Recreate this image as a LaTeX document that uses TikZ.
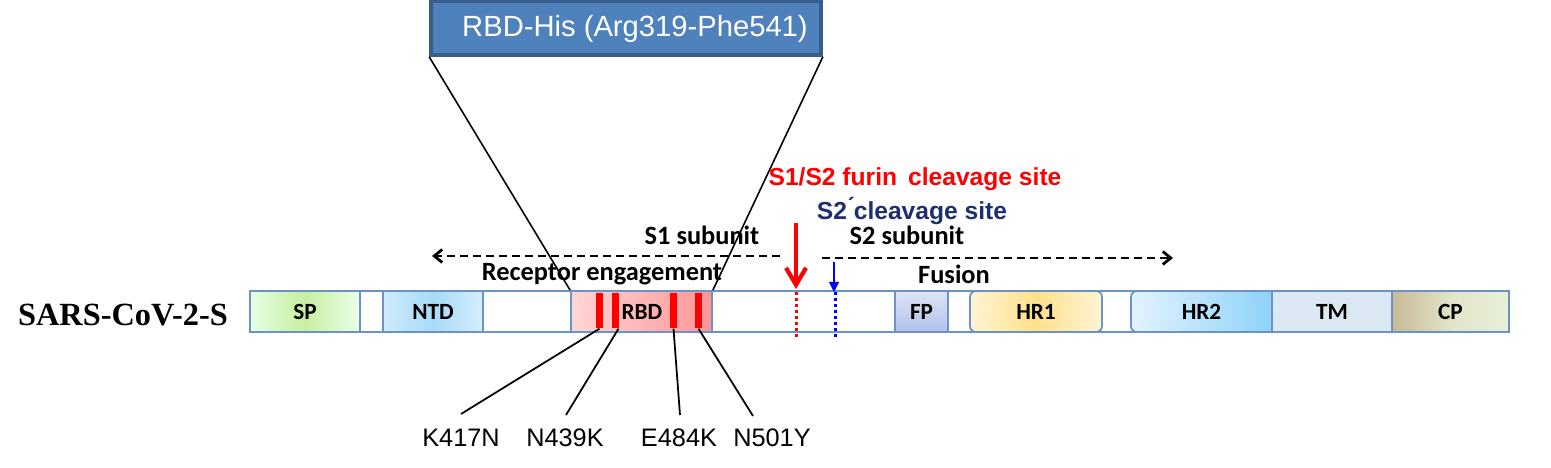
\documentclass[tikz,border=0pt]{standalone}
\usepackage{fontspec}
\setmainfont{Liberation Sans}
\newfontfamily\calib{Carlito}
\newfontfamily\timesf{Liberation Serif}
\usetikzlibrary{arrows.meta}
\definecolor{segborder}{HTML}{6B94C4}
\definecolor{boxfill}{HTML}{4F81BD}
\definecolor{boxborder}{HTML}{385D8A}
\definecolor{navy}{HTML}{1F2F6E}
\definecolor{mutred}{HTML}{FF0000}
\definecolor{siteblue}{HTML}{0000FF}
\begin{document}
\begin{tikzpicture}[x=0.01cm,y=-0.01cm,
  seg/.style={draw=segborder, line width=0.5pt, minimum height=0.41cm, inner sep=0pt,
    font=\calib\bfseries\fontsize{6.6}{7}\selectfont},
  segtext/.style={inner sep=0pt, font=\calib\bfseries\fontsize{6.6}{7}\selectfont},
  mutbar/.style={fill=mutred, draw=none, minimum width=0.075cm, minimum height=0.35cm, inner sep=0pt},
  mutlabel/.style={inner sep=0pt, font=\fontsize{7.2}{8}\selectfont},
  mutline/.style={black, line width=0.5pt},
  zoomline/.style={black, line width=0.45pt},
  subtext/.style={inner sep=0pt, font=\calib\bfseries\fontsize{7.5}{8}\selectfont},
  dasharrow/.style={black, line width=0.7pt, dash pattern=on 0.08cm off 0.05cm},
  chev/.style={-{Straight Barb[length=0.08cm,width=0.13cm,line width=0.8pt]}},
  dotline/.style={line width=0.85pt, dash pattern=on 0.03cm off 0.03cm}
]
\useasboundingbox (0,0) rectangle (1551,468);

% title box
\node[fill=boxfill, draw=boxborder, line width=1pt, minimum width=3.90cm, minimum height=0.54cm, inner sep=0pt] (rbdhis) at (626,28) {};
\node[inner sep=0pt, text=white, font=\fontsize{8.3}{9}\selectfont] (rbdhistext) at (635,29) {RBD-His (Arg319-Phe541)};

% protein label
\node[inner sep=0pt, font=\timesf\bfseries\fontsize{9.2}{10}\selectfont] (protname) at (123,315) {SARS-CoV-2-S};

% whole bar
\node[seg, fill=white, minimum width=12.59cm] (bar) at (879.5,311.5) {};

% domains
\node[seg, minimum width=1.10cm, left color=green!10!white, right color=green!8!white, middle color={rgb,255:red,200;green,238;blue,160}] (sp) at (305,311.5) {SP};
\node[seg, minimum width=1.00cm, left color={rgb,255:red,208;green,235;blue,252}, right color={rgb,255:red,214;green,238;blue,252}, middle color={rgb,255:red,168;green,218;blue,248}] (ntd) at (433,311.5) {NTD};
\node[seg, minimum width=1.41cm, left color={rgb,255:red,255;green,214;blue,214}, right color={rgb,255:red,255;green,150;blue,150}] (rbd) at (641.5,311.5) {};
\node[seg, minimum width=0.53cm, top color={rgb,255:red,222;green,228;blue,246}, bottom color={rgb,255:red,176;green,192;blue,234}] (fp) at (921.5,311.5) {FP};
\node[seg, rounded corners=0.06cm, minimum width=1.32cm, left color={rgb,255:red,255;green,244;blue,212}, right color={rgb,255:red,255;green,244;blue,212}, middle color={rgb,255:red,255;green,224;blue,140}] (hr1) at (1036,311.5) {HR1};
\node[seg, rounded corners=0.06cm, minimum width=1.51cm, left color={rgb,255:red,228;green,243;blue,253}, right color={rgb,255:red,136;green,208;blue,248}] (hr2) at (1206.5,311.5) {};
\node[segtext] (hr2text) at (1201.5,311.5) {HR2};
\node[seg, minimum width=1.20cm, fill={rgb,255:red,220;green,232;blue,244}] (tm) at (1332,311.5) {TM};
\node[seg, minimum width=1.17cm, left color={rgb,255:red,200;green,185;blue,150}, right color={rgb,255:red,232;green,240;blue,218}, middle color={rgb,255:red,225;green,228;blue,200}] (cp) at (1450.5,311.5) {CP};

% mutation bars
\node[mutbar] (m1) at (599.5,310.5) {};
\node[mutbar] (m2) at (615.5,310.5) {};
\node[mutbar] (m3) at (673.5,310.5) {};
\node[mutbar] (m4) at (698.5,310.5) {};
\node[segtext] (rbdtext) at (642,311.5) {RBD};

% zoom lines from title box to RBD
\draw[zoomline] (rbdhis.south west) -- (rbd.north west);
\draw[zoomline] (rbdhis.south east) -- (rbd.north east);

% mutation labels
\coordinate (e1) at (461,414);
\coordinate (e2) at (566,415);
\coordinate (e3) at (680,415);
\coordinate (e4) at (753,416);
\node[mutlabel] (l1) at (461,438) {K417N};
\node[mutlabel] (l2) at (565,438) {N439K};
\node[mutlabel] (l3) at (679,438) {E484K};
\node[mutlabel] (l4) at (772,438) {N501Y};
\draw[mutline] (m1.south) -- (e1);
\draw[mutline] ([xshift=0.03cm]m2.south) -- (e2);
\draw[mutline] (m3.south) -- (e3);
\draw[mutline] (m4.south) -- (e4);

% cleavage sites
\coordinate (fa) at (796,223);
\coordinate (fb) at (796,289);
\coordinate (fc) at (796,292);
\coordinate (fd) at (796,339);
\coordinate (sa) at (834,262);
\coordinate (sb) at (834,292);
\coordinate (sc) at (835,292);
\coordinate (sd) at (835,339);
\draw[mutred, line width=1.1pt, -{Straight Barb[length=0.17cm,width=0.2cm,line width=1.2pt]}] (fa) -- (fb);
\draw[siteblue, line width=0.3pt, -{Triangle[length=0.1cm,width=0.1cm]}] (sa) -- (sb);
\draw[mutred, dotline] (fc) -- (fd);
\draw[siteblue, dotline] (sc) -- (sd);

\node[inner sep=0pt, text=mutred, font=\bfseries\fontsize{7.0}{8}\selectfont] (furin) at (915,179) {S1/S2 furin\, cleavage site};
\node[inner sep=0pt, text=navy, font=\bfseries\fontsize{7.0}{8}\selectfont] (s2prime) at (912,211) {S2\'{}cleavage site};

% subunit arrows
\coordinate (s1r) at (780,256);
\coordinate (s1l) at (432,256);
\coordinate (s2l) at (822,258);
\coordinate (s2r) at (1173,258);
\draw[dasharrow, chev] (s1r) -- (s1l);
\draw[dasharrow, chev] (s2l) -- (s2r);

\node[subtext] (s1) at (702,235) {S1 subunit};
\node[subtext] (s2) at (907,235) {S2 subunit};
\node[subtext] (recep) at (602,274) {Receptor engagement};
\node[subtext] (fusion) at (954,274) {Fusion};
\end{tikzpicture}
\end{document}
